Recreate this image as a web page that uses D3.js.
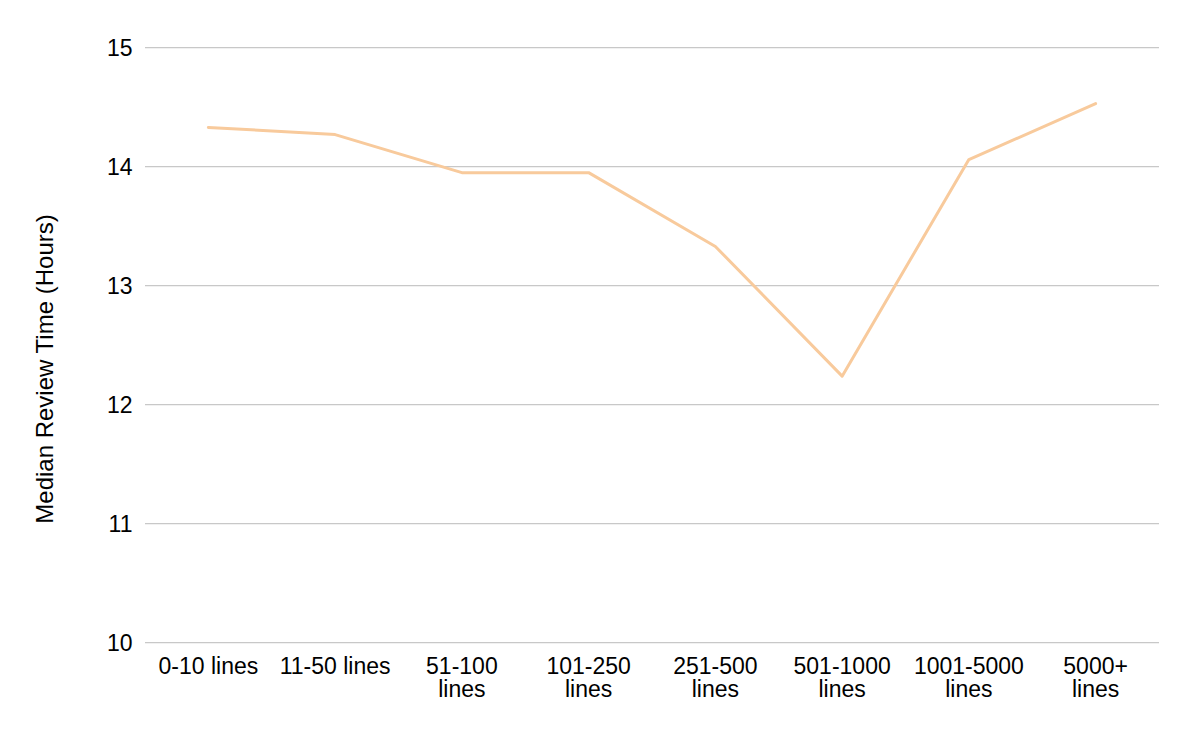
<!DOCTYPE html>
<html>
<head>
<meta charset="utf-8">
<script src="https://cdn.jsdelivr.net/npm/d3@7"></script>
<style>
  html, body { margin: 0; padding: 0; background: #fff; }
  svg { display: block; font-family: "Liberation Sans", Arial, sans-serif; }
</style>
</head>
<body>
<svg id="chart" width="1194" height="740"></svg>
<script>
const categories = ["0-10 lines", "11-50 lines", "51-100 lines", "101-250 lines", "251-500 lines", "501-1000 lines", "1001-5000 lines", "5000+ lines"];
const medianHours = [14.33, 14.27, 13.95, 13.95, 13.33, 12.24, 14.06, 14.53];
const yTicks = [10, 11, 12, 13, 14, 15];
const yTitle = "Median Review Time (Hours)";

const svg = d3.select("#chart");
const W = 1194, H = 740;
const m = { left: 145, right: W - 1159, top: 47.7, bottom: H - 642.7 };

const x = d3.scaleBand().domain(categories).range([m.left, W - m.right]).padding(0);
const y = d3.scaleLinear().domain([10, 15]).range([H - m.bottom, m.top]);

// gridlines
svg.append("g")
  .selectAll("line")
  .data(yTicks)
  .join("line")
  .attr("x1", m.left).attr("x2", W - m.right)
  .attr("y1", d => y(d)).attr("y2", d => y(d))
  .attr("stroke", "#c8c8c8").attr("stroke-width", 1.3);

// y axis labels
const yAxis = d3.axisLeft(y).tickValues(yTicks).tickSize(0).tickPadding(0).tickFormat(d3.format("d"));
const yg = svg.append("g").attr("transform", `translate(${132.5},0)`).call(yAxis);
yg.select(".domain").remove();
yg.selectAll("text").attr("font-size", "23px").attr("fill", "#000")
  .attr("font-family", "'Liberation Sans', Arial, sans-serif").attr("dy", "0.36em");

// x axis labels
const xAxis = d3.axisBottom(x).tickSize(0).tickPadding(0);
const xg = svg.append("g").attr("transform", `translate(0,${H - m.bottom})`).call(xAxis);
xg.select(".domain").remove();
xg.selectAll("text").attr("font-size", "23px").attr("fill", "#000")
  .attr("font-family", "'Liberation Sans', Arial, sans-serif")
  .attr("dy", null).attr("y", 31.5)
  .each(function(d) {
    const t = d3.select(this);
    t.text(null);
    const words = d.split(" ");
    let lines = [], cur = [];
    const maxW = 115;
    const tmp = t.append("tspan");
    words.forEach(w => {
      const test = cur.concat([w]).join(" ");
      tmp.text(test);
      if (tmp.node().getComputedTextLength() > maxW && cur.length) {
        lines.push(cur.join(" "));
        cur = [w];
      } else {
        cur.push(w);
      }
    });
    lines.push(cur.join(" "));
    tmp.remove();
    lines.forEach((ln, i) => {
      t.append("tspan").attr("x", 0).attr("y", 31.5 + i * 23).text(ln);
    });
  });

// line
const line = d3.line()
  .x((d, i) => x(categories[i]) + x.bandwidth() / 2)
  .y(d => y(d));
svg.append("path")
  .datum(medianHours)
  .attr("d", line)
  .attr("fill", "none")
  .attr("stroke", "#f8ca9c")
  .attr("stroke-width", 3)
  .attr("stroke-linejoin", "round")
  .attr("stroke-linecap", "round");

// y title
svg.append("text")
  .attr("transform", `translate(52.5,369) rotate(-90)`)
  .attr("text-anchor", "middle")
  .attr("font-size", "24px")
  .attr("fill", "#000")
  .text(yTitle);
</script>
</body>
</html>
